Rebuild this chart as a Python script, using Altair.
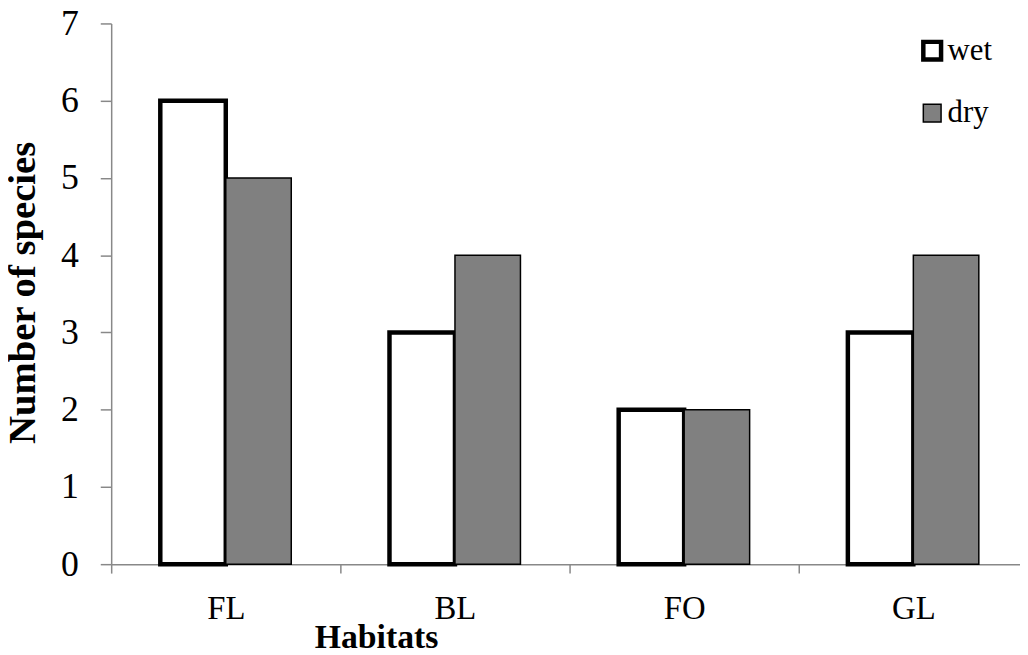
import altair as alt
import pandas as pd

habitats = ["FL", "BL", "FO", "GL"]
wet = [6, 3, 2, 3]
dry = [5, 4, 2, 4]
seasons = ["wet", "dry"]
y_ticks = [0, 1, 2, 3, 4, 5, 6, 7]

rows = []
for h, w, d in zip(habitats, wet, dry):
    rows.append({"Habitat": h, "Season": "wet", "Species": w})
    rows.append({"Habitat": h, "Season": "dry", "Species": d})
df = pd.DataFrame(rows)

FONT = "Liberation Serif"

legend_props = dict(
    title=None, orient="none", legendX=812, legendY=12,
    symbolType="square", symbolSize=320,
    labelFont=FONT, labelFontSize=31, labelColor="black",
    rowPadding=28, labelOffset=0,
)

chart = alt.Chart(df).mark_bar().encode(
    x=alt.X(
        "Habitat:N", sort=habitats,
        scale=alt.Scale(range=[0, 924], paddingInner=0, paddingOuter=0),
        axis=alt.Axis(
            title="Habitats", labelAngle=0, tickBand="extent",
            labelFont=FONT, labelFontSize=33, labelColor="black",
            tickSize=9, labelPadding=20,
            titleFont=FONT, titleFontSize=34, titleFontWeight="bold", titleColor="black",
            titleX=267, titleY=84, titleAlign="center", titleBaseline="alphabetic",
        ),
    ),
    xOffset=alt.XOffset(
        "Season:N", sort=seasons,
        scale=alt.Scale(domain=seasons, paddingInner=0, paddingOuter=0.75),
    ),
    y=alt.Y(
        "Species:Q",
        scale=alt.Scale(domain=[0, 7], nice=False),
        axis=alt.Axis(
            title="Number of species", values=y_ticks, format="d",
            labelFont=FONT, labelFontSize=36, labelColor="black",
            tickSize=11, labelPadding=22, grid=False,
            titleFont=FONT, titleFontSize=39, titleFontWeight="bold", titleColor="black",
            titleAngle=270, titleX=-77, titleY=271, titleAlign="center", titleBaseline="alphabetic",
        ),
    ),
    fill=alt.Fill(
        "Season:N", sort=seasons,
        scale=alt.Scale(domain=seasons, range=["white", "#808080"]),
        legend=alt.Legend(**legend_props),
    ),
    stroke=alt.Stroke(
        "Season:N", sort=seasons,
        scale=alt.Scale(domain=seasons, range=["black", "black"]),
        legend=alt.Legend(**legend_props),
    ),
    strokeWidth=alt.StrokeWidth(
        "Season:N", sort=seasons,
        scale=alt.Scale(domain=seasons, range=[4.5, 1.5]),
        legend=alt.Legend(**legend_props),
    ),
).properties(
    width=916, height=545,
    autosize=alt.AutoSizeParams(type="none"),
    padding={"left": 104, "top": 13, "right": 0, "bottom": 92},
).configure_axis(
    domainColor="#888888", tickColor="#888888", domainWidth=1.5, tickWidth=1.5,
).configure_view(stroke=None)

chart.save("out.html", embed_options={"renderer": "svg", "actions": False})
